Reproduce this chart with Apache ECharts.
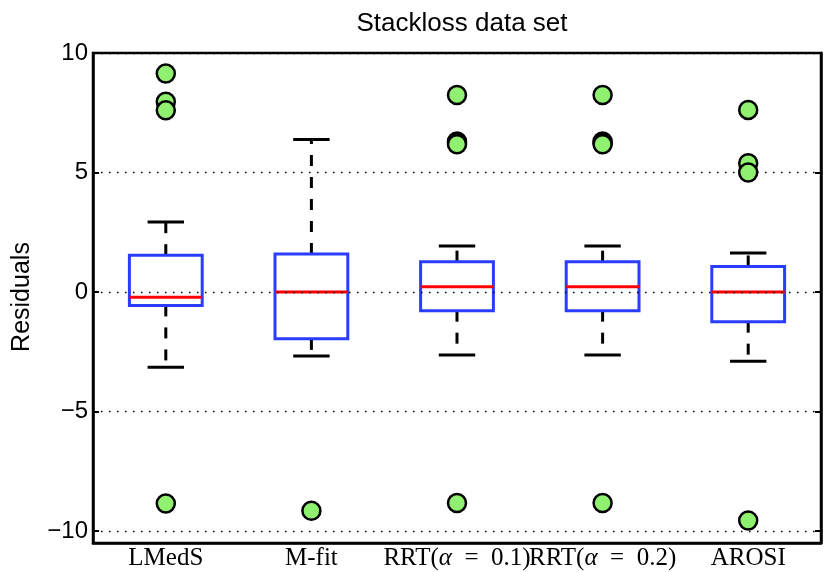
<!DOCTYPE html>
<html>
<head>
<meta charset="utf-8">
<script src="https://cdn.jsdelivr.net/npm/echarts@6/dist/echarts.min.js"></script>
<style>
html,body{margin:0;padding:0;background:#fff;}
#chart{width:830px;height:572px;}
</style>
</head>
<body>
<div id="chart"></div>
<script>
const categories = ['LMedS', 'M-fit', 'RRT(α = 0.1)', 'RRT(α = 0.2)', 'AROSI'];
const lowerWhisker = [-3.15, -2.68, -2.63, -2.63, -2.9];
const q1 = [-0.56, -1.96, -0.78, -0.78, -1.24];
const median = [-0.22, 0, 0.22, 0.22, 0];
const q3 = [1.54, 1.59, 1.27, 1.27, 1.07];
const upperWhisker = [2.93, 6.38, 1.93, 1.93, 1.63];
const outliers = [
  [0, 9.14], [0, 7.96], [0, 7.6], [0, -8.85],
  [1, -9.15],
  [2, 8.24], [2, 6.3], [2, 6.24], [2, 6.18], [2, -8.83],
  [3, 8.24], [3, 6.3], [3, 6.24], [3, 6.18], [3, -8.83],
  [4, 7.62], [4, 5.39], [4, 5.0], [4, -9.56]
];
const yTicks = [-10, -5, 0, 5, 10];
const yMin = -10.5, yMax = 10;

const boxData = categories.map((c, i) => [i, lowerWhisker[i], q1[i], median[i], q3[i], upperWhisker[i]]);

function renderBox(params, api) {
  const idx = api.value(0);
  const pLW = api.coord([idx, api.value(1)]);
  const pQ1 = api.coord([idx, api.value(2)]);
  const pMed = api.coord([idx, api.value(3)]);
  const pQ3 = api.coord([idx, api.value(4)]);
  const pUW = api.coord([idx, api.value(5)]);
  const bw = api.size([1, 0])[0];
  const half = bw * 0.25, cap = bw * 0.125;
  const x = pMed[0];
  const blk = {stroke: '#000', lineWidth: 3, fill: null};
  const dash = {stroke: '#000', lineWidth: 3, fill: null, lineDash: [11, 11]};
  return {
    type: 'group',
    children: [
      {type: 'line', shape: {x1: x, y1: pQ3[1], x2: x, y2: pUW[1]}, style: dash},
      {type: 'line', shape: {x1: x, y1: pQ1[1], x2: x, y2: pLW[1]}, style: dash},
      {type: 'line', shape: {x1: x - cap, y1: pUW[1], x2: x + cap, y2: pUW[1]}, style: blk},
      {type: 'line', shape: {x1: x - cap, y1: pLW[1], x2: x + cap, y2: pLW[1]}, style: blk},
      {type: 'rect', shape: {x: x - half, y: pQ3[1], width: 2 * half, height: pQ1[1] - pQ3[1]},
        style: {stroke: '#2a3cff', lineWidth: 3, fill: null}},
      {type: 'line', shape: {x1: x - half, y1: pMed[1], x2: x + half, y2: pMed[1]},
        style: {stroke: '#ff0000', lineWidth: 3}}
    ]
  };
}

const fmtY = v => v < 0 ? '\u2212' + Math.abs(v) : String(v);
const fmtX = v => v.indexOf('α') >= 0
  ? v.replace(/^(.*)α = (.*)$/, '{n|$1}{a|α}{n|\u2002=\u2002$2}')
  : '{n|' + v + '}';

const chart = echarts.init(document.getElementById('chart'));
chart.setOption({
  animation: false,
  backgroundColor: '#fff',
  title: {
    text: 'Stackloss data set', left: 457, top: 6, textAlign: 'center',
    textStyle: {fontFamily: 'Liberation Sans', fontSize: 26, fontWeight: 'normal', color: '#000'}
  },
  grid: {left: 93, right: 9, top: 53, bottom: 29, show: true, borderColor: '#000', borderWidth: 2.5, backgroundColor: 'transparent'},
  graphic: [{
    type: 'text', x: 22, y: 297, rotation: Math.PI / 2,
    style: {text: 'Residuals', fontFamily: 'Liberation Sans', fontSize: 25, fill: '#000', align: 'center', verticalAlign: 'middle'}
  }],
  xAxis: {
    type: 'category', data: categories, boundaryGap: true,
    axisLine: {show: true, onZero: false, lineStyle: {color: '#000', width: 2.5}},
    axisTick: {show: false},
    splitLine: {show: false},
    axisLabel: {
      interval: 0, hideOverlap: false, margin: 3, color: '#000',
      formatter: fmtX,
      rich: {
        n: {fontFamily: 'Liberation Serif', fontSize: 25, color: '#000'},
        a: {fontFamily: 'Liberation Serif', fontSize: 25, fontStyle: 'italic', color: '#000'}
      }
    }
  },
  yAxis: [{
    type: 'value', min: yMin, max: yMax,
    axisLine: {show: true, onZero: false, lineStyle: {color: '#000', width: 2.5}},
    axisTick: {show: true, inside: true, length: 6, customValues: yTicks, lineStyle: {color: '#000', width: 2}},
    axisLabel: {customValues: yTicks, formatter: fmtY, fontFamily: 'Liberation Sans', fontSize: 24, margin: 5, color: '#000'},
    splitLine: {show: false}
  }, {
    type: 'value', min: yMin, max: yMax, position: 'right',
    axisLine: {show: true, onZero: false, lineStyle: {color: '#000', width: 2.5}},
    axisTick: {show: true, inside: true, length: 6, customValues: yTicks, lineStyle: {color: '#000', width: 2}},
    axisLabel: {show: false},
    splitLine: {show: false}
  }],
  series: [{
    type: 'line', data: [], z: 1, silent: true,
    markLine: {
      silent: true, symbol: 'none', animation: false,
      label: {show: false},
      lineStyle: {type: [1.5, 6.5], color: '#000', width: 1.3},
      data: yTicks.map(v => ({yAxis: v}))
    }
  }, {
    type: 'custom', z: 3, renderItem: renderBox,
    encode: {x: 0, y: [1, 2, 3, 4, 5]},
    data: boxData
  }, {
    type: 'scatter', z: 5, data: outliers, symbol: 'circle', symbolSize: 18,
    itemStyle: {color: '#90f070', borderColor: '#000', borderWidth: 2.5, opacity: 1}
  }]
});
</script>
</body>
</html>
